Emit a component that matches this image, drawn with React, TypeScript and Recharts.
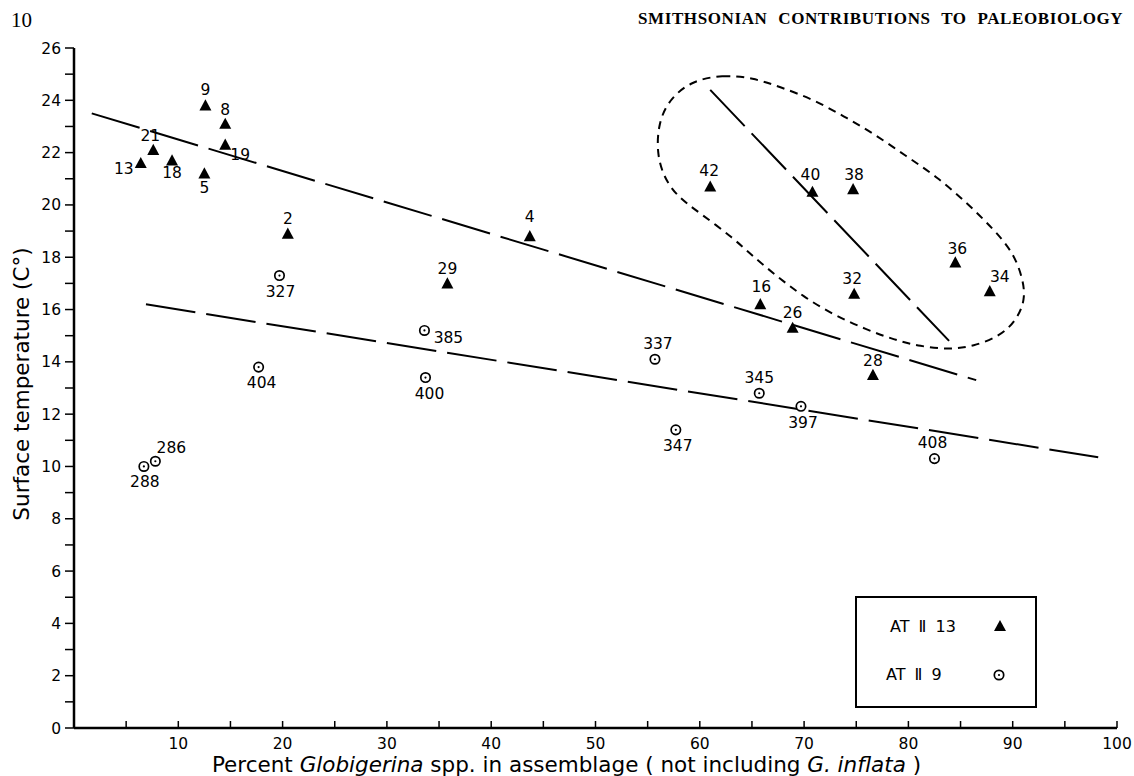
import { ComposedChart, Scatter, Line, XAxis, YAxis, Legend, Label } from 'recharts'

// station AT II 13 (filled triangles)
const st13Ids = ['9', '8', '19', '21', '13', '18', '5', '2', '4', '29', '42', '40', '38', '36', '34', '32', '16', '26', '28']
const st13Pct = [12.6, 14.5, 14.5, 7.6, 6.4, 9.4, 12.5, 20.5, 43.7, 35.8, 61.0, 70.8, 74.7, 84.5, 87.8, 74.8, 65.8, 68.9, 76.6]
const st13Temp = [23.8, 23.1, 22.3, 22.1, 21.6, 21.7, 21.2, 18.9, 18.8, 17.0, 20.7, 20.5, 20.6, 17.8, 16.7, 16.6, 16.2, 15.3, 13.5]

// station AT II 9 (open circles)
const st9Ids = ['327', '404', '385', '400', '337', '347', '345', '397', '408', '286', '288']
const st9Pct = [19.7, 17.7, 33.6, 33.7, 55.7, 57.7, 65.7, 69.7, 82.5, 7.8, 6.7]
const st9Temp = [17.3, 13.8, 15.2, 13.4, 14.1, 11.4, 12.8, 12.3, 10.3, 10.2, 10.0]

// fitted lines (end points)
const upperFitPct = [1.7, 86.5]
const upperFitTemp = [23.5, 13.3]
const lowerFitPct = [6.9, 98.2]
const lowerFitTemp = [16.2, 10.35]
const clusterFitPct = [61.0, 83.9]
const clusterFitTemp = [24.4, 14.8]

// outline drawn round the high-percentage group
const outlinePct = [59.0, 62.2, 65.1, 67.7, 70.9, 73.8, 76.6, 79.8, 82.7, 85.6, 88.2, 90.1, 91.0, 91.2, 90.4, 88.8, 86.2, 84.0, 81.1, 78.6, 76.0, 72.8, 69.9, 67.4, 65.1, 63.2, 60.0, 57.8, 56.5, 55.9, 56.0, 56.8]
const outlineTemp = [24.73, 24.98, 24.86, 24.51, 24.03, 23.39, 22.75, 21.86, 21.09, 20.08, 19.06, 18.16, 17.14, 16.38, 15.61, 14.98, 14.59, 14.47, 14.59, 14.85, 15.23, 15.8, 16.5, 17.27, 18.03, 18.74, 19.69, 20.33, 21.09, 21.99, 23.0, 23.9]

const xTicks = [5, 10, 15, 20, 25, 30, 35, 40, 45, 50, 55, 60, 65, 70, 75, 80, 85, 90, 95, 100]
const yTicks = [0, 1, 2, 3, 4, 5, 6, 7, 8, 9, 10, 11, 12, 13, 14, 15, 16, 17, 18, 19, 20, 21, 22, 23, 24, 25, 26]

const seriesNames = ['AT \u2161 13', 'AT \u2161 9']

// where each point's number sits, in px from the marker
const labelOffsets: Record<string, [number, number]> = {
  '9': [0, -16], '8': [0, -14], '19': [15, 10], '21': [-3, -14], '13': [-17, 6], '18': [0, 13],
  '5': [0, 14], '2': [0, -15], '4': [0, -19], '29': [0, -14], '42': [-1, -16], '40': [-2, -17],
  '38': [1, -14], '36': [2, -13], '34': [10, -14], '32': [-2, -15], '16': [1, -17], '26': [0, -15],
  '28': [0, -14], '327': [1, 16], '404': [3, 16], '385': [24, 8], '400': [4, 16], '337': [3, -15],
  '347': [2, 16], '345': [0, -15], '397': [2, 17], '408': [-2, -16], '286': [16, -13], '288': [1, 16],
}

const font = '"DejaVu Sans", sans-serif'

const zip = (ids: string[] | null, xs: number[], ys: number[]) =>
  xs.map((x, i) => ({ id: ids ? ids[i] : String(i), x, y: ys[i] }))

const st13 = zip(st13Ids, st13Pct, st13Temp)
const st9 = zip(st9Ids, st9Pct, st9Temp)
const upperFit = zip(null, upperFitPct, upperFitTemp)
const lowerFit = zip(null, lowerFitPct, lowerFitTemp)
const clusterFit = zip(null, clusterFitPct, clusterFitTemp)
const outline = zip(null, outlinePct, outlineTemp)

function PointLabel({ cx, cy, id }: { cx: number; cy: number; id: string }) {
  const off = labelOffsets[id] ?? [0, -15]
  return (
    <text x={cx + off[0]} y={cy + off[1]} textAnchor="middle" dominantBaseline="central" fontSize={15.5} fontFamily={font} fill="#000">
      {id}
    </text>
  )
}

function Triangle(props: any) {
  const { cx, cy, payload } = props
  return (
    <g>
      <path d={`M${cx},${cy - 6.2} L${cx + 6},${cy + 5} L${cx - 6},${cy + 5} Z`} fill="#000" />
      <PointLabel cx={cx} cy={cy} id={payload.id} />
    </g>
  )
}

function Ring(props: any) {
  const { cx, cy, payload } = props
  return (
    <g>
      <circle cx={cx} cy={cy} r={4.7} fill="#fff" stroke="#000" strokeWidth={1.7} />
      <circle cx={cx} cy={cy} r={1.1} fill="#000" />
      <PointLabel cx={cx} cy={cy} id={payload.id} />
    </g>
  )
}

function LegendBox() {
  const row = { position: 'absolute' as const, fontSize: 16, wordSpacing: 4 }
  return (
    <div style={{ width: 178, height: 108, border: '2px solid #000', background: '#fff', fontFamily: font, color: '#000', position: 'relative' }}>
      <div style={{ ...row, left: 33, top: 19 }}>{seriesNames[0]}</div>
      <svg style={{ position: 'absolute', left: 135, top: 20 }} width={16} height={16}>
        <path d="M8,2 L14,13 L2,13 Z" fill="#000" />
      </svg>
      <div style={{ ...row, left: 29, top: 67 }}>{seriesNames[1]}</div>
      <svg style={{ position: 'absolute', left: 134, top: 69 }} width={16} height={16}>
        <circle cx={8} cy={8} r={4.7} fill="#fff" stroke="#000" strokeWidth={1.7} />
        <circle cx={8} cy={8} r={1.1} fill="#000" />
      </svg>
    </div>
  )
}

export default function App() {
  return (
    <div style={{ position: 'absolute', left: 0, top: 0, width: 1134, height: 776, background: '#fff' }}>
      <div style={{ position: 'absolute', left: 11, top: 8, fontFamily: '"Liberation Serif", serif', fontSize: 21 }}>10</div>
      <div style={{ position: 'absolute', left: 638, top: 9, fontFamily: '"Liberation Serif", serif', fontSize: 17, fontWeight: 'bold', letterSpacing: 0.6, wordSpacing: 6, whiteSpace: 'nowrap' }}>
        SMITHSONIAN CONTRIBUTIONS TO PALEOBIOLOGY
      </div>
      <ComposedChart width={1134} height={776} margin={{ top: 48, right: 17, bottom: 0, left: 0 }}>
        <XAxis
          type="number"
          dataKey="x"
          domain={[0, 100]}
          ticks={xTicks}
          tickFormatter={(v: number) => (v % 10 === 0 ? String(v) : '')}
          height={48}
          tickSize={-7}
          tickMargin={17}
          axisLine={{ stroke: '#000', strokeWidth: 2.5 }}
          tickLine={{ stroke: '#000', strokeWidth: 1.5 }}
          tick={{ fontSize: 15.5, fill: '#000', fontFamily: font }}
          interval={0}
        >
          <Label
            content={(p: any) => {
              const vb = p.viewBox
              return (
                <text x={vb.x + vb.width / 2 - 29} y={vb.y + 44} textAnchor="middle" fontSize={21.5} fontFamily={font} fill="#000">
                  Percent <tspan fontStyle="italic">Globigerina</tspan> spp. in assemblage ( not including{' '}
                  <tspan fontStyle="italic">G. inflata</tspan> )
                </text>
              )
            }}
          />
        </XAxis>
        <YAxis
          type="number"
          dataKey="y"
          domain={[0, 26]}
          ticks={yTicks}
          tickFormatter={(v: number) => (v % 2 === 0 ? String(v) : '')}
          width={74}
          tickSize={9}
          tickMargin={4}
          axisLine={{ stroke: '#000', strokeWidth: 2.5 }}
          tickLine={{ stroke: '#000', strokeWidth: 1.5 }}
          tick={{ fontSize: 15.5, fill: '#000', fontFamily: font }}
          interval={0}
        >
          <Label
            content={(p: any) => {
              const vb = p.viewBox
              const cx = vb.x + 21
              const cy = vb.y + vb.height / 2 - 4
              return (
                <text x={cx} y={cy} transform={`rotate(-90 ${cx} ${cy})`} textAnchor="middle" dominantBaseline="central" fontSize={21.5} fontFamily={font} fill="#000">
                  Surface temperature (C°)
                </text>
              )
            }}
          />
        </YAxis>
        <Line data={upperFit} dataKey="y" type="linear" stroke="#000" strokeWidth={2} strokeDasharray="50 11" dot={false} activeDot={false} legendType="none" isAnimationActive={false} />
        <Line data={lowerFit} dataKey="y" type="linear" stroke="#000" strokeWidth={2} strokeDasharray="50 11" dot={false} activeDot={false} legendType="none" isAnimationActive={false} />
        <Line data={clusterFit} dataKey="y" type="linear" stroke="#000" strokeWidth={2} strokeDasharray="50 10" dot={false} activeDot={false} legendType="none" isAnimationActive={false} />
        <Line data={outline} dataKey="y" type="basisClosed" stroke="#000" strokeWidth={2} strokeDasharray="8 6" dot={false} activeDot={false} legendType="none" isAnimationActive={false} />
        <Scatter name={seriesNames[0]} data={st13} dataKey="y" shape={Triangle} isAnimationActive={false} />
        <Scatter name={seriesNames[1]} data={st9} dataKey="y" shape={Ring} isAnimationActive={false} />
        <Legend
          layout="horizontal"
          verticalAlign="middle"
          align="center"
          content={() => <LegendBox />}
          wrapperStyle={{ left: 855, top: 596, width: 182, height: 112 }}
        />
      </ComposedChart>
    </div>
  )
}
